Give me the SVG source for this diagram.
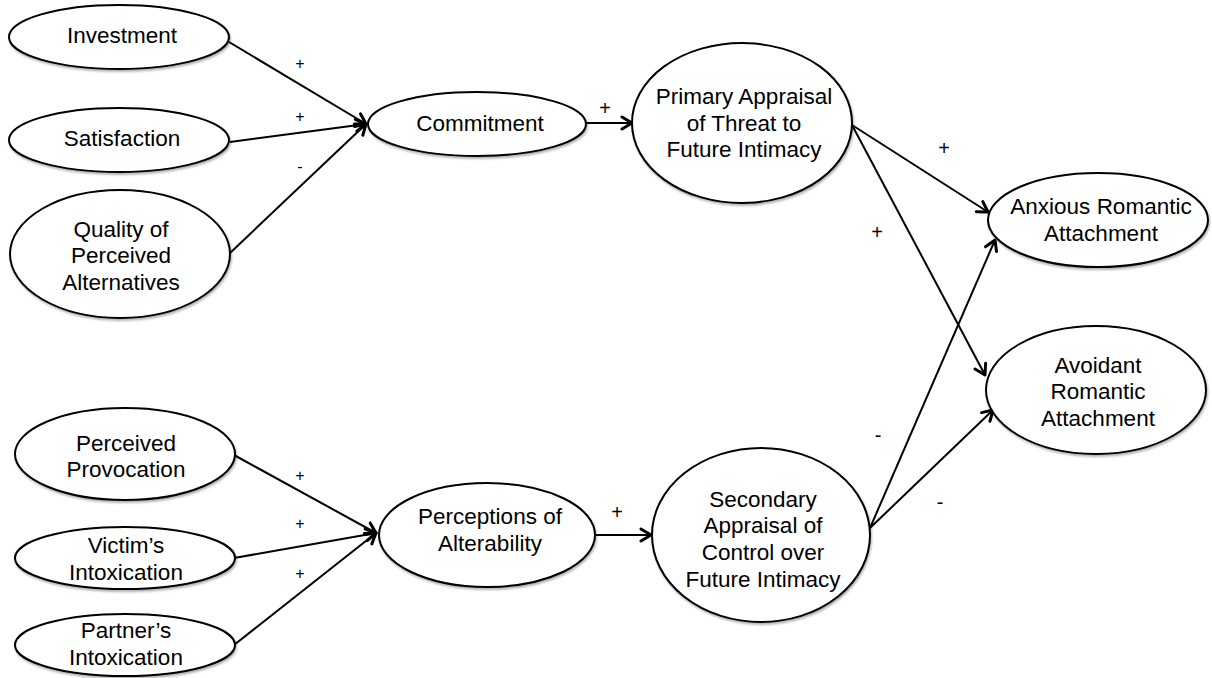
<svg xmlns="http://www.w3.org/2000/svg" width="1212" height="678" viewBox="0 0 1212 678">
<style>
.node ellipse{fill:#fff;stroke:#000;stroke-width:2;filter:url(#sh)}
.node text{font-family:"Liberation Sans",Arial,sans-serif;font-size:22.5px;text-anchor:middle;fill:#000}
#connectors line{stroke:#000;stroke-width:2;marker-end:url(#arr)}
.lbl{font-family:"Liberation Sans",Arial,sans-serif;text-anchor:middle;fill:#000}
.s{font-size:16px}
.b{font-size:20px}
</style>
<defs>
<filter id="sh" x="-10%" y="-10%" width="125%" height="130%">
<feDropShadow dx="1" dy="2" stdDeviation="1.2" flood-color="#000" flood-opacity="0.3"/>
</filter>
<marker id="arr" markerUnits="userSpaceOnUse" viewBox="0 0 16 16" markerWidth="16" markerHeight="16" refX="13" refY="8" orient="auto">
<path d="M3,2 L13,8 L3,14" fill="none" stroke="#000" stroke-width="3" stroke-linecap="round" stroke-linejoin="round"/>
</marker>
</defs>
<rect width="1212" height="678" fill="#fff"/>
<g id="connectors">
<line x1="229" y1="42" x2="366" y2="124"/>
<line x1="230" y1="142" x2="366" y2="124"/>
<line x1="230" y1="253" x2="366" y2="124"/>
<line x1="586" y1="123" x2="632" y2="123"/>
<line x1="852" y1="125" x2="988" y2="212"/>
<line x1="852" y1="125" x2="985" y2="375"/>
<line x1="234" y1="455" x2="376" y2="533"/>
<line x1="234" y1="558" x2="376" y2="533"/>
<line x1="234" y1="645" x2="376" y2="533"/>
<line x1="596" y1="535" x2="651" y2="535"/>
<line x1="870" y1="528" x2="995" y2="240"/>
<line x1="870" y1="528" x2="993" y2="410"/>
</g>
<g id="labels">
<text class="lbl s" x="300" y="69">+</text>
<text class="lbl s" x="300" y="122">+</text>
<text class="lbl s" x="300" y="172">-</text>
<text class="lbl b" x="605" y="115">+</text>
<text class="lbl b" x="944" y="155">+</text>
<text class="lbl b" x="877" y="239">+</text>
<text class="lbl b" x="878" y="442">-</text>
<text class="lbl b" x="940" y="509">-</text>
<text class="lbl s" x="300" y="481">+</text>
<text class="lbl s" x="300" y="529">+</text>
<text class="lbl s" x="300" y="579">+</text>
<text class="lbl b" x="617" y="519">+</text>
</g>
<g id="investment" class="node"><ellipse cx="119" cy="37" rx="110" ry="32"/><text x="122" y="43">Investment</text></g>
<g id="satisfaction" class="node"><ellipse cx="119" cy="140" rx="110" ry="32"/><text x="122" y="146">Satisfaction</text></g>
<g id="quality" class="node"><ellipse cx="120" cy="254" rx="110" ry="64"/><text x="121" y="237">Quality of</text><text x="121" y="263">Perceived</text><text x="121" y="290">Alternatives</text></g>
<g id="commitment" class="node"><ellipse cx="477" cy="124" rx="109" ry="32"/><text x="480" y="131">Commitment</text></g>
<g id="primary" class="node"><ellipse cx="742" cy="123" rx="110" ry="80"/><text x="744" y="104">Primary Appraisal</text><text x="744" y="131">of Threat to</text><text x="744" y="157">Future Intimacy</text></g>
<g id="anxious" class="node"><ellipse cx="1098" cy="220" rx="110" ry="47"/><text x="1101" y="214">Anxious Romantic</text><text x="1101" y="241">Attachment</text></g>
<g id="avoidant" class="node"><ellipse cx="1096" cy="390" rx="110" ry="64"/><text x="1098" y="373">Avoidant</text><text x="1098" y="399">Romantic</text><text x="1098" y="426">Attachment</text></g>
<g id="provocation" class="node"><ellipse cx="125" cy="454" rx="110" ry="46"/><text x="126" y="451">Perceived</text><text x="126" y="477">Provocation</text></g>
<g id="victim" class="node"><ellipse cx="125" cy="558" rx="110" ry="31"/><text x="126" y="553">Victim’s</text><text x="126" y="580">Intoxication</text></g>
<g id="partner" class="node"><ellipse cx="125" cy="645" rx="110" ry="31"/><text x="126" y="638">Partner’s</text><text x="126" y="665">Intoxication</text></g>
<g id="perceptions" class="node"><ellipse cx="487" cy="535" rx="108" ry="52"/><text x="490" y="524">Perceptions of</text><text x="490" y="551">Alterability</text></g>
<g id="secondary" class="node"><ellipse cx="761" cy="535" rx="109" ry="87"/><text x="763" y="507">Secondary</text><text x="763" y="533">Appraisal of</text><text x="763" y="560">Control over</text><text x="763" y="587">Future Intimacy</text></g>
</svg>
